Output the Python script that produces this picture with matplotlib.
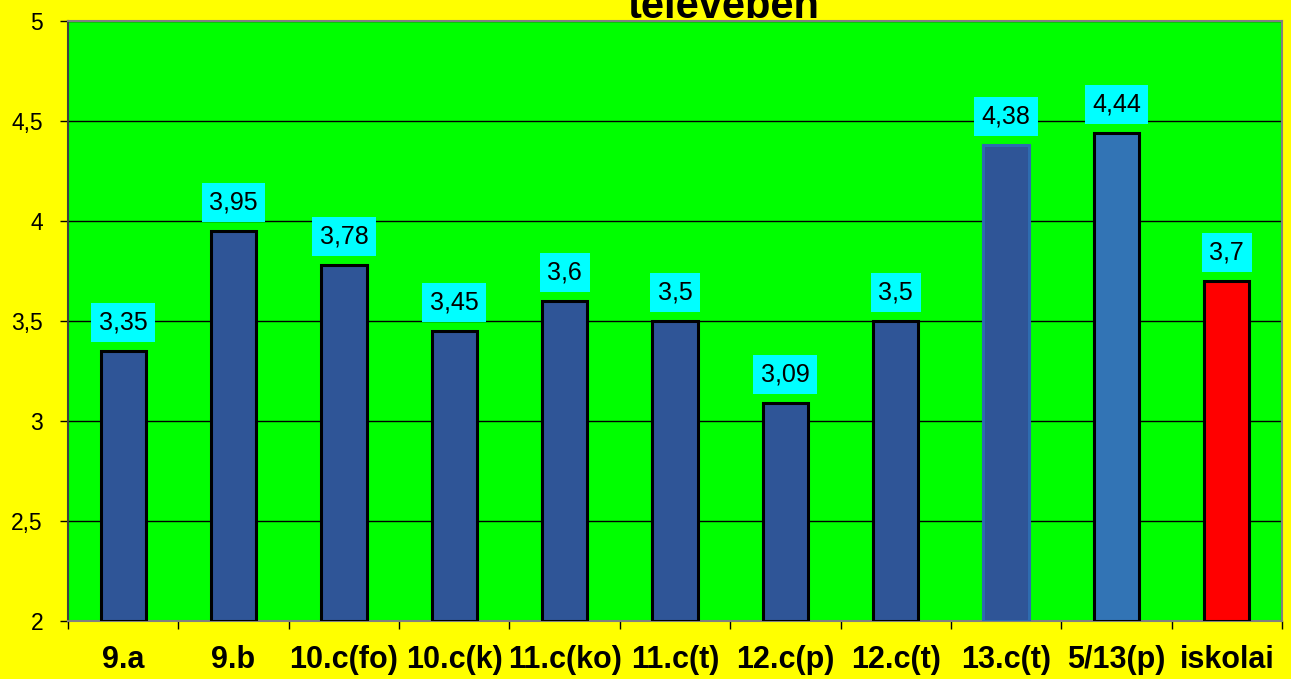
import matplotlib
matplotlib.use("Agg")
import matplotlib.pyplot as plt
import numpy as np

categories = ["9.a", "9.b", "10.c(fo)", "10.c(k)", "11.c(ko)", "11.c(t)",
              "12.c(p)", "12.c(t)", "13.c(t)", "5/13(p)", "iskolai"]
values = [3.35, 3.95, 3.78, 3.45, 3.6, 3.5, 3.09, 3.5, 4.38, 4.44, 3.7]
value_labels = ["3,35", "3,95", "3,78", "3,45", "3,6", "3,5", "3,09", "3,5", "4,38", "4,44", "3,7"]
y_ticks = [2, 2.5, 3, 3.5, 4, 4.5, 5]
y_tick_labels = ["2", "2,5", "3", "3,5", "4", "4,5", "5"]
title_text = "televeben"

bar_colors = ["#2F5597"] * 8 + ["#2F5597", "#3274B5", "#FF0000"]
edge_colors = ["#000000"] * 8 + ["#2E6BB0", "#000000", "#000000"]

plt.rcParams['font.family'] = ['Liberation Sans', 'DejaVu Sans']

fig = plt.figure(figsize=(12.91, 6.79), dpi=100, facecolor="#FFFF00")
ax = fig.add_axes([68/1291, 58/679, (1282-68)/1291, (621-21)/679])
ax.set_facecolor("#00FF00")

x = np.arange(len(categories))
ax.set_xlim(-0.5, len(categories) - 0.5)
ax.set_ylim(2, 5)

ax.set_yticks(y_ticks)
ax.set_yticklabels(y_tick_labels, fontsize=16.5)
ax.yaxis.grid(True, color="black", linewidth=1.0)
ax.set_axisbelow(True)

bars = ax.bar(x, [v - 2 for v in values], bottom=2, width=0.41,
              color=bar_colors, edgecolor=edge_colors, linewidth=2.2, zorder=3)

for xi, v, lab in zip(x, values, value_labels):
    ax.annotate(lab, (xi, v), xytext=(0, 12), textcoords="offset points",
                ha="center", va="bottom", fontsize=18, color="black",
                bbox=dict(boxstyle="square,pad=0.3", facecolor="#00FFFF", edgecolor="none"),
                zorder=5)

ax.set_xticks(x)
ax.set_xticklabels(categories, fontsize=22, fontweight="bold")
ax.set_xticks(np.arange(-0.5, len(categories), 1.0), minor=True)
ax.tick_params(axis="x", which="major", length=0, pad=17)
ax.tick_params(axis="x", which="minor", length=6, width=1, color="black", direction="out")
ax.tick_params(axis="y", which="major", length=6, width=1, color="black", direction="out", pad=12)

for side in ["top", "right", "bottom"]:
    ax.spines[side].set_color("#808080")
    ax.spines[side].set_linewidth(1.5)
ax.spines["left"].set_color("#404040")
ax.spines["left"].set_linewidth(1.5)

fig.text(724/1291, 1 - 18/679, title_text, ha="center", va="baseline",
         fontsize=30, fontweight="bold", color="black")

fig.savefig("out.png", dpi=100, facecolor=fig.get_facecolor())
